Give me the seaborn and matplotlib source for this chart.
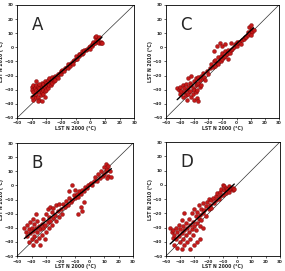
import numpy as np
import pandas as pd
import seaborn as sns
import matplotlib.pyplot as plt

# LST N 2000 (x) vs LST N 2010 (y)
a_x = [-40, -40, -39, -39, -38, -38, -38, -37, -37, -37, -36, -36, -36, -35, -35, -35, -34, -34, -34, -33,
       -33, -33, -33, -32, -32, -32, -31, -31, -31, -31, -30, -30, -30, -29, -29, -29, -28, -28, -27, -27,
       -26, -26, -25, -25, -24, -24, -23, -22, -22, -21, -20, -20, -19, -18, -17, -16, -15, -15, -14, -13,
       -12, -12, -11, -10, -10, -9, -8, -8, -7, -6, -6, -5, -4, -3, -2, -1, 0, 0, 1, 1,
       2, 2, 3, 3, 4, 4, 5, 5, 6, 6, 7, 7, 8, -39, -40, -36, -35, -37]
a_y = [-28, -30, -27, -32, -29, -34, -36, -30, -33, -27, -31, -35, -28, -29, -32, -37, -27, -30, -34, -25,
       -29, -32, -38, -26, -30, -33, -24, -28, -31, -35, -25, -27, -30, -23, -26, -29, -22, -27, -24, -27,
       -21, -25, -22, -24, -20, -23, -21, -19, -22, -18, -19, -17, -16, -17, -15, -14, -15, -12, -13, -11,
       -10, -12, -9, -8, -6, -8, -6, -5, -5, -5, -3, -4, -2, -2, -1, 0, 1, -1, 1, 2,
       2, 4, 3, 7, 5, 8, 6, 4, 7, 3, 4, 3, 3, -37, -35, -38, -26, -24]

b_x = [-45, -44, -43, -43, -42, -42, -41, -41, -40, -40, -39, -39, -38, -38, -37, -37, -36, -36, -35, -35,
       -34, -34, -33, -33, -32, -32, -31, -31, -30, -30, -29, -29, -28, -28, -27, -27, -26, -26, -25, -25,
       -24, -23, -23, -22, -21, -21, -20, -19, -18, -17, -16, -15, -14, -13, -12, -11, -10, -10, -9, -8,
       -7, -6, -6, -5, -5, -4, -4, -3, -2, -1, 0, 1, 2, 3, 4, 5, 6, 7, 8, 9,
       10, 10, 11, 11, 12, 13, 13, 14, 15, 12, -8, -14, -12, -37, -39]
b_y = [-30, -33, -28, -36, -31, -40, -26, -34, -30, -38, -32, -42, -27, -36, -30, -39, -33, -25, -29, -37,
       -31, -42, -27, -35, -24, -30, -38, -28, -20, -33, -17, -26, -22, -30, -15, -25, -19, -28, -16, -23,
       -21, -14, -25, -18, -13, -22, -17, -20, -13, -15, -11, -14, -9, -12, -10, -7, -9, -3, -6, -8,
       -4, -15, -6, -18, -3, -12, -4, -1, -2, 0, 1, 2, 0, 3, 6, 3, 8, 5, 10, 7,
       13, 8, 15, 10, 12, 7, 14, 10, 6, 5, -20, -4, 0, -20, -24]

c_x = [-42, -41, -40, -40, -39, -38, -38, -37, -37, -36, -36, -35, -35, -34, -34, -34, -33, -33, -32, -32,
       -32, -31, -31, -30, -30, -30, -29, -29, -29, -28, -28, -28, -27, -27, -27, -26, -26, -25, -25, -24,
       -24, -23, -22, -21, -20, -19, -18, -17, -16, -15, -15, -14, -13, -13, -12, -11, -11, -10, -10, -9,
       -8, -8, -7, -6, -6, -5, -4, -3, -2, -1, 0, 0, 1, 2, 3, 4, 5, 6, 7, 8,
       8, 9, 9, 10, 10, 11, 11, 12, 10, -14, -12, -10, -8, -16, -4]
c_y = [-29, -30, -28, -33, -31, -27, -35, -29, -32, -26, -34, -30, -37, -22, -28, -33, -25, -31, -27, -35,
       -20, -29, -33, -24, -30, -37, -22, -27, -32, -26, -30, -36, -21, -25, -38, -23, -28, -20, -27, -22,
       -18, -21, -23, -17, -19, -15, -12, -14, -10, -13, -9, -11, -7, -12, -9, -10, -6, -8, -4, -7,
       -3, -6, -5, -2, -8, -4, -2, -1, 0, 2, 1, 4, 3, 4, 2, 5, 6, 7, 7, 9,
       11, 10, 14, 12, 16, 13, 11, 12, 9, 1, 3, 1, 2, -3, 3]

d_x = [-47, -46, -45, -45, -44, -44, -43, -43, -42, -42, -41, -41, -40, -40, -39, -39, -39, -38, -38, -37,
       -37, -36, -36, -35, -35, -34, -34, -33, -33, -32, -32, -31, -31, -30, -30, -29, -29, -28, -28, -27,
       -27, -26, -26, -25, -25, -24, -24, -23, -22, -22, -21, -20, -20, -19, -18, -18, -17, -16, -15, -15,
       -14, -13, -12, -12, -11, -10, -10, -9, -9, -8, -8, -7, -6, -6, -5, -4, -3, -3, -2, -26,
       -28, -30, -33, -37, -24]
d_y = [-30, -33, -32, -37, -35, -42, -30, -38, -33, -44, -28, -36, -31, -40, -25, -34, -45, -29, -38, -32,
       -42, -27, -35, -30, -40, -24, -33, -28, -38, -20, -31, -26, -35, -17, -29, -22, -32, -19, -27, -24,
       -14, -21, -29, -17, -25, -20, -13, -18, -15, -22, -12, -17, -10, -14, -11, -16, -9, -13, -8, -11,
       -6, -10, -5, -8, -3, -7, 0, -4, -1, -6, -2, -3, -5, -1, -3, -2, -4, -2, -3, -38,
       -40, -42, -45, -20, -30]

panels = [("A", a_x, a_y), ("B", b_x, b_y), ("C", c_x, c_y), ("D", d_x, d_y)]
ticks = [-50, -40, -30, -20, -10, 0, 10, 20, 30]

sns.set_style("ticks")
plt.rcParams['font.family'] = ['DejaVu Sans']

fig = plt.figure(figsize=(2.85, 2.71), dpi=100)
boxes = {"A": [0.060, 0.565, 0.411, 0.417],
         "C": [0.582, 0.565, 0.397, 0.417],
         "B": [0.060, 0.055, 0.407, 0.417],
         "D": [0.582, 0.055, 0.400, 0.421]}

for name, xs, ys in panels:
    ax = fig.add_axes(boxes[name])
    df = pd.DataFrame({"x": xs, "y": ys})
    ax.axline((0, 0), slope=1, color="#333333", lw=0.5, zorder=1)
    sns.scatterplot(data=df, x="x", y="y", ax=ax, color="#c41a1a", edgecolor="#6b0000",
                    linewidth=0.25, s=8, zorder=2)
    sns.regplot(data=df, x="x", y="y", ax=ax, scatter=False, ci=None, truncate=True,
                line_kws={"color": "black", "lw": 1.0, "zorder": 3})
    ax.set_xlim(-50, 30)
    ax.set_ylim(-50, 30)
    ax.set_xticks(ticks)
    ax.set_yticks(ticks)
    ax.tick_params(labelsize=3.0, length=1.5, width=0.5, pad=1)
    for lab in ax.get_xticklabels() + ax.get_yticklabels():
        lab.set_fontweight("bold")
    ax.set_xlabel("LST N 2000 (°C)", fontsize=3.3, fontweight="bold", labelpad=0.5)
    ax.set_ylabel("LST N 2010 (°C)", fontsize=3.3, fontweight="bold")
    ax.yaxis.set_label_coords(-0.11, 0.5)
    for sp in ax.spines.values():
        sp.set_linewidth(0.6)
        sp.set_color("black")
    ax.text(-40, 16, name, fontsize=12, ha="left", va="center")

fig.savefig("out.png", dpi=100)
